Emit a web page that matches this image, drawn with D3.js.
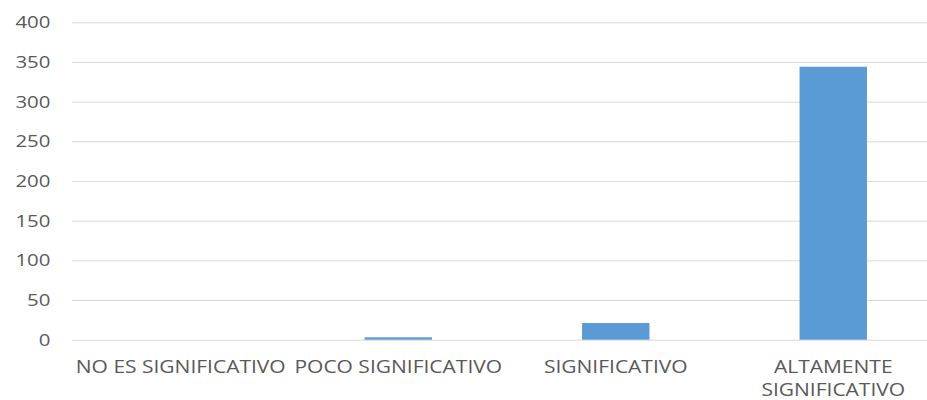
<!DOCTYPE html>
<html>
<head>
<meta charset="utf-8">
<script src="https://cdn.jsdelivr.net/npm/d3@7"></script>
<style>
	body { margin: 0; background: #fff; }
	text { font-family: "Open Sans", sans-serif; fill: #595959; }
</style>
</head>
<body>
<svg id="svg"></svg>
<script>
var width = 927, height = 400;

// data
var categories = ["NO ES SIGNIFICATIVO", "POCO SIGNIFICATIVO", "SIGNIFICATIVO", "ALTAMENTE SIGNIFICATIVO"];
var labelLines = [["NO ES SIGNIFICATIVO"], ["POCO SIGNIFICATIVO"], ["SIGNIFICATIVO"], ["ALTAMENTE", "SIGNIFICATIVO"]];
var values = [0, 3, 21, 344];
var yTicks = [0, 50, 100, 150, 200, 250, 300, 350, 400];

var svg = d3.select("#svg")
	.attr("width", width)
	.attr("height", height);

var plotLeft = 72, plotRight = 942, plotTop = 22.3, plotBottom = 339.7;

var x = d3.scaleBand()
	.domain(categories)
	.range([plotLeft, plotRight])
	.paddingInner(0.69)
	.paddingOuter(0.345);

var y = d3.scaleLinear()
	.domain([0, 400])
	.range([plotBottom, plotTop]);

// gridlines + y labels
var yAxis = d3.axisLeft(y)
	.tickValues(yTicks)
	.tickSize(-(plotRight - plotLeft))
	.tickPadding(18);

var gy = svg.append("g")
	.attr("transform", "translate(" + plotLeft + ",0)")
	.call(yAxis);
gy.select(".domain").remove();
gy.selectAll("line")
	.attr("stroke", "#d9d9d9")
	.attr("stroke-width", 1);
gy.selectAll("text")
	.attr("font-size", 17)
	.attr("font-family", "Open Sans")
	.attr("fill", "#595959")
	.attr("transform", "scale(1.2,1)");

// bars
svg.selectAll("rect.bar")
	.data(values)
	.enter()
	.append("rect")
	.attr("class", "bar")
	.attr("x", function(d, i) { return x(categories[i]); })
	.attr("y", function(d) { return y(d); })
	.attr("width", x.bandwidth())
	.attr("height", function(d) { return plotBottom - y(d); })
	.style("fill", "#5b9bd5");

// category labels
var xAxis = d3.axisBottom(x)
	.tickSize(0)
	.tickPadding(0);

var gx = svg.append("g")
	.attr("transform", "translate(0," + plotBottom + ")")
	.call(xAxis);
gx.select(".domain").remove();
gx.selectAll("text")
	.attr("font-size", 17.5)
	.attr("font-family", "Open Sans")
	.attr("fill", "#595959")
	.attr("transform", "scale(1.2,1)")
	.attr("dy", null)
	.attr("y", 33)
	.text(null)
	.each(function(d) {
		var lines = labelLines[categories.indexOf(d)];
		var t = d3.select(this);
		lines.forEach(function(l, k) {
			t.append("tspan")
				.attr("x", 0)
				.attr("y", 33 + k * 23)
				.text(l);
		});
	});
</script>
</body>
</html>
